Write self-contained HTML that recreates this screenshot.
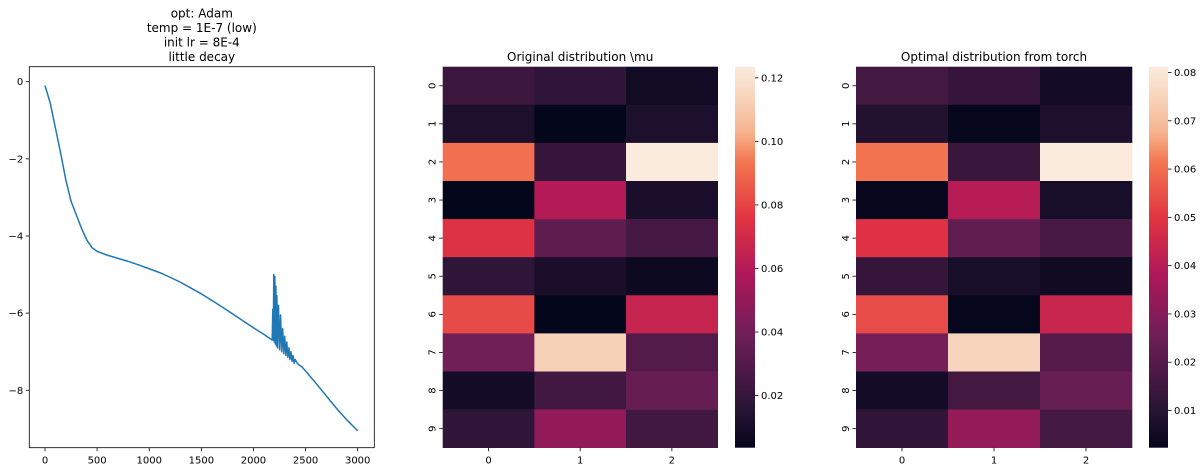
<!DOCTYPE html>
<html><head><meta charset="utf-8"><style>
html,body{margin:0;padding:0;background:#fff;}
svg{display:block;font-family:"DejaVu Sans","Liberation Sans",sans-serif;}
</style></head><body>
<svg id="fig" width="1204" height="472" viewBox="0 0 1204 472" xmlns="http://www.w3.org/2000/svg">
<defs>
<linearGradient id="rocket" x1="0" y1="1" x2="0" y2="0">
<stop offset="0" stop-color="#03051a"/><stop offset="0.1" stop-color="#281434"/><stop offset="0.3" stop-color="#701f57"/><stop offset="0.45" stop-color="#ad1759"/><stop offset="0.6" stop-color="#e13342"/><stop offset="0.75" stop-color="#f37651"/><stop offset="0.83" stop-color="#f6b48f"/><stop offset="0.92" stop-color="#f7d4bb"/><stop offset="1" stop-color="#faebdd"/>
</linearGradient>
</defs>
<g id="p1"></g>
<g id="h1"></g>
<g id="h2"></g>
</svg>
<script>
// Loss curve data
const lossSteps = [0,50,100,150,200,250,300,350,400,450,500,600,700,800,900,1000,1100,1200,1300,1400,1500,1600,1700,1800,1900,2000,2100,2180,2185,2190,2195,2200,2205,2210,2215,2220,2225,2230,2240,2250,2260,2270,2280,2290,2300,2310,2320,2330,2340,2350,2360,2370,2380,2390,2400,2420,2440,2460,2500,2600,2700,2800,2900,3000];
const lossValues = [-0.1,-0.55,-1.2,-1.85,-2.55,-3.1,-3.45,-3.8,-4.1,-4.3,-4.4,-4.5,-4.58,-4.66,-4.75,-4.85,-4.95,-5.07,-5.2,-5.35,-5.5,-5.67,-5.84,-6.02,-6.2,-6.38,-6.55,-6.7,-5.9,-6.7,-5.0,-6.75,-5.05,-6.8,-5.3,-6.85,-5.55,-6.9,-5.8,-6.95,-6.05,-7.0,-6.4,-7.05,-6.6,-7.1,-6.75,-7.15,-6.9,-7.2,-7.0,-7.25,-7.1,-7.3,-7.2,-7.3,-7.35,-7.38,-7.5,-7.82,-8.15,-8.48,-8.78,-9.05];
const lossXTicks = [0,500,1000,1500,2000,2500,3000];
const lossYTicks = [0,-2,-4,-6,-8];
// Heatmap data
const rowLabels = ["0","1","2","3","4","5","6","7","8","9"];
const colLabels = ["0","1","2"];
const muValues = [[0.022,0.018,0.008],[0.012,0.004,0.012],[0.092,0.020,0.1235],[0.004,0.060,0.011],[0.074,0.034,0.025],[0.018,0.011,0.007],[0.082,0.004,0.066],[0.040,0.113,0.030],[0.009,0.024,0.036],[0.018,0.050,0.024]];
const optValues = [[0.016,0.013,0.006],[0.009,0.003,0.008],[0.061,0.014,0.0812],[0.003,0.040,0.007],[0.049,0.023,0.017],[0.013,0.007,0.005],[0.054,0.003,0.044],[0.027,0.075,0.020],[0.006,0.016,0.024],[0.012,0.033,0.016]];
const muTicks = [0.02,0.04,0.06,0.08,0.10,0.12];
const optTicks = [0.01,0.02,0.03,0.04,0.05,0.06,0.07,0.08];

const NS="http://www.w3.org/2000/svg";
function mk(parent,tag,attrs,text){const e=document.createElementNS(NS,tag);for(const k in attrs)e.setAttribute(k,attrs[k]);if(text!==undefined)e.textContent=text;parent.appendChild(e);return e;}

// ---- line chart ----
(function(){
const g=document.getElementById('p1');
const L=29.3,R=374.3,T=66.7,B=447.7;
const xs=v=>45+v*0.10423, ys=v=>81.7-v*38.57;
["opt: Adam","temp = 1E-7 (low)","init lr = 8E-4","little decay"].forEach((t,i)=>{
 const e=mk(g,'text',{x:201.8,y:17.5+i*14.5,'text-anchor':'middle','font-size':12,fill:'#000'},t);
 
 
});
let d=lossSteps.map((s,i)=>(i?'L':'M')+xs(s).toFixed(2)+','+ys(lossValues[i]).toFixed(2)).join('');
const p=mk(g,'path',{d:d,fill:'none',stroke:'#1f77b4','stroke-width':1.5,'stroke-linejoin':'round'});


lossXTicks.forEach(v=>{const x=xs(v);mk(g,'line',{x1:x,x2:x,y1:B,y2:B+3.5,stroke:'#000','stroke-width':0.8});
 const t=mk(g,'text',{x:x,y:B+16,'text-anchor':'middle','font-size':10,fill:'#000'},String(v));
 
 });
lossYTicks.forEach(v=>{const y=ys(v);mk(g,'line',{x1:L-3.5,x2:L,y1:y,y2:y,stroke:'#000','stroke-width':0.8});
 const t=mk(g,'text',{x:L-6,y:y+3.5,'text-anchor':'end','font-size':10,fill:'#000'},v<0?'\u2212'+(-v):String(v));
 
 });
const fr=mk(g,'rect',{x:L,y:T,width:R-L,height:B-T,fill:'none',stroke:'#000','stroke-width':0.8});


})();

// ---- heatmaps ----
const stops=[[0,[3,5,26]],[0.1,[40,20,52]],[0.3,[112,31,87]],[0.45,[173,23,89]],[0.6,[225,51,66]],[0.75,[243,118,81]],[0.83,[246,180,143]],[0.92,[247,212,187]],[1,[250,235,221]]];
function rocket(t){t=Math.max(0,Math.min(1,t));for(let i=1;i<stops.length;i++){if(t<=stops[i][0]){const a=stops[i-1],b=stops[i],f=(t-a[0])/(b[0]-a[0]);return 'rgb('+a[1].map((c,k)=>Math.round(c+(b[1][k]-c)*f)).join(',')+')';}}return 'rgb(250,235,221)';}
function heat(id,vals,ticks,vmin,vmax,L,R,cbL,cbR,title){
 const g=document.getElementById(id);const T=66.7,B=447.7;
 const cw=(R-L)/colLabels.length, rh=(B-T)/rowLabels.length;
 const tt=mk(g,'text',{x:(L+R)/2,y:61,'text-anchor':'middle','font-size':12,fill:'#000'},title);
 
 
 vals.forEach((row,r)=>row.forEach((v,c)=>{
  const e=mk(g,'rect',{x:L+c*cw,y:T+r*rh,width:cw+0.3,height:rh+0.3,fill:rocket((v-vmin)/(vmax-vmin))});
  
  
 }));
 rowLabels.forEach((lab,r)=>{const y=T+(r+0.5)*rh;mk(g,'line',{x1:L-3.5,x2:L,y1:y,y2:y,stroke:'#000','stroke-width':0.8});
  const t=mk(g,'text',{x:L-7,y:y,'text-anchor':'middle','font-size':10,fill:'#000',transform:'rotate(-90 '+(L-7)+' '+y+')'},lab);
  
  });
 colLabels.forEach((lab,c)=>{const x=L+(c+0.5)*cw;mk(g,'line',{x1:x,x2:x,y1:B,y2:B+3.5,stroke:'#000','stroke-width':0.8});
  const t=mk(g,'text',{x:x,y:B+16,'text-anchor':'middle','font-size':10,fill:'#000'},lab);
  
  });
 const cb=mk(g,'rect',{x:cbL,y:T,width:cbR-cbL,height:B-T,fill:'url(#rocket)'});
 
 
 ticks.forEach(v=>{const y=B-(v-vmin)/(vmax-vmin)*(B-T);mk(g,'line',{x1:cbR,x2:cbR+3.5,y1:y,y2:y,stroke:'#000','stroke-width':0.8});
  const t=mk(g,'text',{x:cbR+6,y:y+3.5,'font-size':10,fill:'#000'},v.toFixed(2));
  
  });
}
heat('h1',muValues,muTicks,0.0036,0.1235,442.7,717.7,735,755,'Original distribution \\mu');
heat('h2',optValues,optTicks,0.0023,0.0812,856,1132,1149,1168,'Optimal distribution from torch');
</script>
</body></html>
